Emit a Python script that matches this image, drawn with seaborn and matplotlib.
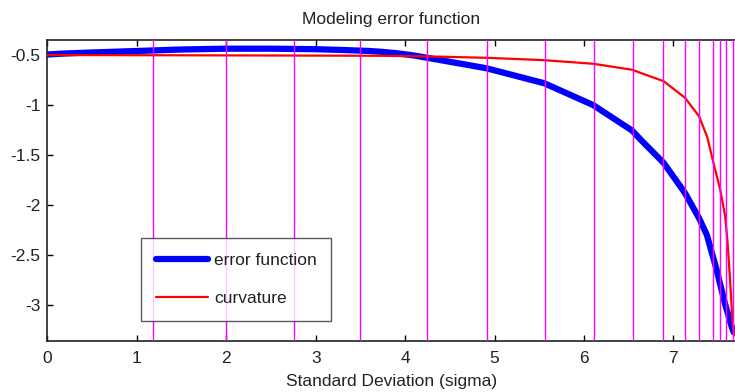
import matplotlib
matplotlib.use("Agg")
import matplotlib.pyplot as plt
import seaborn as sns
import pandas as pd

# Error function samples (sigma, value)
err_x = [0.0, 0.2, 0.5, 1.0, 1.5, 2.0, 2.5, 3.0, 3.3, 3.6, 3.72, 3.9, 4.1,
         4.24, 4.5, 4.91, 5.557, 6.105, 6.54, 6.632, 6.893, 7.131, 7.288,
         7.375, 7.485, 7.577, 7.653, 7.675]
err_y = [-0.49, -0.48, -0.47, -0.455, -0.44, -0.432, -0.432, -0.437, -0.445,
         -0.455, -0.462, -0.477, -0.5, -0.522, -0.563, -0.628, -0.778, -0.997,
         -1.252, -1.34, -1.576, -1.877, -2.128, -2.296, -2.646, -2.98, -3.215,
         -3.27]

# Curvature samples (sigma, value)
curv_x = [0.0, 2.38, 3.72, 4.24, 4.91, 5.557, 6.105, 6.54, 6.632, 6.893, 7.131,
          7.288, 7.377, 7.448, 7.524, 7.58, 7.605, 7.635, 7.665, 7.685]
curv_y = [-0.495, -0.5, -0.503, -0.509, -0.523, -0.547, -0.583, -0.643, -0.674,
          -0.758, -0.924, -1.109, -1.31, -1.57, -1.84, -2.11, -2.35, -2.75,
          -3.215, -3.3]

# Sigma positions of the marker lines
marker_x = [1.183, 1.997, 2.757, 3.496, 4.242, 4.913, 5.562, 6.116, 6.546,
            6.89, 7.131, 7.282, 7.444, 7.525, 7.592, 7.667]

x_ticks = [0, 1, 2, 3, 4, 5, 6, 7]
y_ticks = [-3, -2.5, -2, -1.5, -1, -0.5]
y_tick_labels = ["-3", "-2.5", "-2", "-1.5", "-1", "-0.5"]

sns.set_theme(style="white")
plt.rcParams["font.family"] = ["Liberation Sans", "DejaVu Sans"]

FS = 12.5

fig = plt.figure(figsize=(7.35, 3.92), dpi=100)
ax = fig.add_axes([0.0646, 0.130, 0.9354, 0.7667])

err_df = pd.DataFrame({"sigma": err_x, "value": err_y})
curv_df = pd.DataFrame({"sigma": curv_x, "value": curv_y})

sns.lineplot(data=err_df, x="sigma", y="value", ax=ax, color="#0000FF",
             linewidth=4.5, label="error function", sort=False, zorder=2)
sns.lineplot(data=curv_df, x="sigma", y="value", ax=ax, color="#FF0000",
             linewidth=1.6, label="curvature", sort=False, zorder=3)

for mx in marker_x:
    ax.axvline(mx, color="#FF00FF", linewidth=1.0, zorder=4)

ax.set_xlim(0, 7.69)
ax.set_ylim(-3.358, -0.35)
ax.set_xticks(x_ticks)
ax.set_xticklabels([str(t) for t in x_ticks])
ax.set_yticks(y_ticks)
ax.set_yticklabels(y_tick_labels)

ax.tick_params(axis="both", direction="in", length=4, width=1, color="black",
               labelsize=FS, labelcolor="#222222", top=True, right=False,
               bottom=True, left=True)
ax.tick_params(axis="x", pad=7)
ax.tick_params(axis="y", pad=5)

for side in ["left", "bottom", "top"]:
    ax.spines[side].set_visible(True)
    ax.spines[side].set_color("#222222")
    ax.spines[side].set_linewidth(1.2)
ax.spines["right"].set_visible(False)

ax.set_title("Modeling error function", fontsize=FS, color="#222222", pad=12)
ax.set_xlabel("Standard Deviation (sigma)", fontsize=FS, color="#222222",
              labelpad=6)
ax.set_ylabel("")

leg = ax.legend(loc="lower left", bbox_to_anchor=(0.136, 0.066),
                fontsize=FS, frameon=True, fancybox=False, edgecolor="#333333",
                handlelength=3.0, handletextpad=0.35, labelspacing=1.32,
                borderpad=0.85, borderaxespad=0)
leg.get_frame().set_linewidth(1.0)
for txt in leg.get_texts():
    txt.set_color("#222222")

fig.savefig("out.png", dpi=100)
